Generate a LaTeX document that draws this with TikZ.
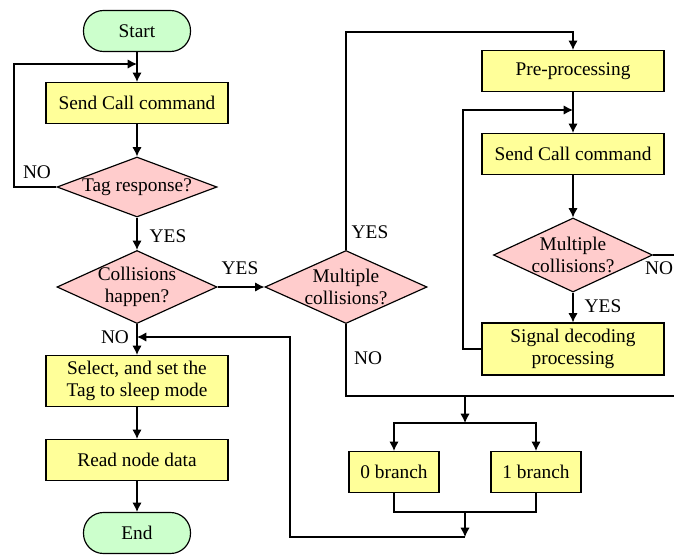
\documentclass[tikz,border=0pt]{standalone}
\usepackage{fontspec}
\setmainfont{Liberation Serif}
\usetikzlibrary{shapes.geometric,arrows.meta}
\definecolor{termgreen}{RGB}{204,255,204}
\definecolor{boxyellow}{RGB}{255,255,153}
\definecolor{decpink}{RGB}{255,204,204}

\begin{document}
\begin{tikzpicture}[
  x=0.03cm, y=-0.03cm,
  every node/.style={font=\fontsize{16.5}{19}\selectfont},
  term/.style={rectangle, rounded corners=0.6cm, draw, fill=termgreen, minimum width=3.21cm, minimum height=1.23cm, line width=1pt},
  box/.style={rectangle, draw, fill=boxyellow, minimum width=5.46cm, minimum height=1.23cm, align=center, line width=1pt},
  decision/.style={diamond, draw, fill=decpink, inner sep=-4pt, aspect=2.3, align=center, line width=1pt},
  arrow/.style={-{Latex[length=8pt,width=8pt]}, line width=1pt},
  line/.style={line width=1pt}
]
\useasboundingbox (0,0) rectangle (674,554);
\clip (0,0) rectangle (674,554);

% Left column
\node[term] (start) at (137,31) {Start};
\node[box] (send1) at (137,103) {Send Call command};
\node[decision, minimum width=4.8cm, minimum height=1.8cm] (tag) at (137,187) {Tag response?};
\node[decision, minimum width=4.8cm, minimum height=2.19cm] (coll) at (137,287) {Collisions\\happen?};
\node[box, minimum height=1.53cm] (select) at (137,381) {Select, and set the\\Tag to sleep mode};
\node[box] (read) at (137,460) {Read node data};
\node[term] (end) at (137,533) {End};

% Middle
\node[decision, minimum width=4.86cm, minimum height=2.19cm] (multi) at (346,287) {Multiple\\collisions?};
\node[box, minimum width=2.7cm] (b0) at (394,472) {0 branch};
\node[box, minimum width=2.7cm] (b1) at (536,472) {1 branch};

% Right column
\node[box] (pre) at (573,71) {Pre-processing};
\node[box] (send2) at (573,154) {Send Call command};
\node[decision, minimum width=4.77cm, minimum height=2.22cm] (multi2) at (573,255) {Multiple\\collisions?};
\node[box, minimum height=1.56cm] (signal) at (573,349) {Signal decoding\\processing};

% Helper points
\coordinate (loop1) at (137,64);
\coordinate (top) at (573,32);
\coordinate (loop2) at (573,110);
\coordinate (split) at (465,396);
\coordinate (fork) at (465,423);
\coordinate (join) at (465,512);
\coordinate (merge) at (465,537);
\coordinate (back) at (137,337);

% Arrows
\draw[arrow] (start) -- (send1);
\draw[arrow] (send1) -- (tag);
\draw[arrow] (tag.west) -| (14,64) -- (loop1);
\draw[arrow] (tag) -- (coll);
\draw[arrow] (coll) -- (multi);
\draw[arrow] (coll) -- (select);
\draw[arrow] (select) -- (read);
\draw[arrow] (read) -- (end);
\draw[arrow] (multi.north) |- (top) -- (pre.north);
\draw[arrow] (pre) -- (send2);
\draw[arrow] (send2) -- (multi2);
\draw[arrow] (multi2) -- (signal);
\draw[arrow] (signal.west) -- (463,349) |- (loop2);
\draw[line] (multi2.east) -- (690,255);
\draw[line] (multi.south) |- (690,396);
\draw[arrow] (split) -- (fork);
\draw[arrow] (fork) -| (b0.north);
\draw[arrow] (fork) -| (b1.north);
\draw[line] (b0.south) |- (join) -| (b1.south);
\draw[arrow] (join) -- (merge);
\draw[arrow] (merge) -| (290,337) -- (back);

% Labels
\node (noTag) at (37,172) {NO};
\node (yesTag) at (168,236) {YES};
\node (yesColl) at (240,268) {YES};
\node (noColl) at (115,337) {NO};
\node (yesMulti) at (370,232) {YES};
\node (noMulti) at (368,358) {NO};
\node (yesMulti2) at (603,306) {YES};
\node (noMulti2) at (659,268) {NO};

\end{tikzpicture}
\end{document}
